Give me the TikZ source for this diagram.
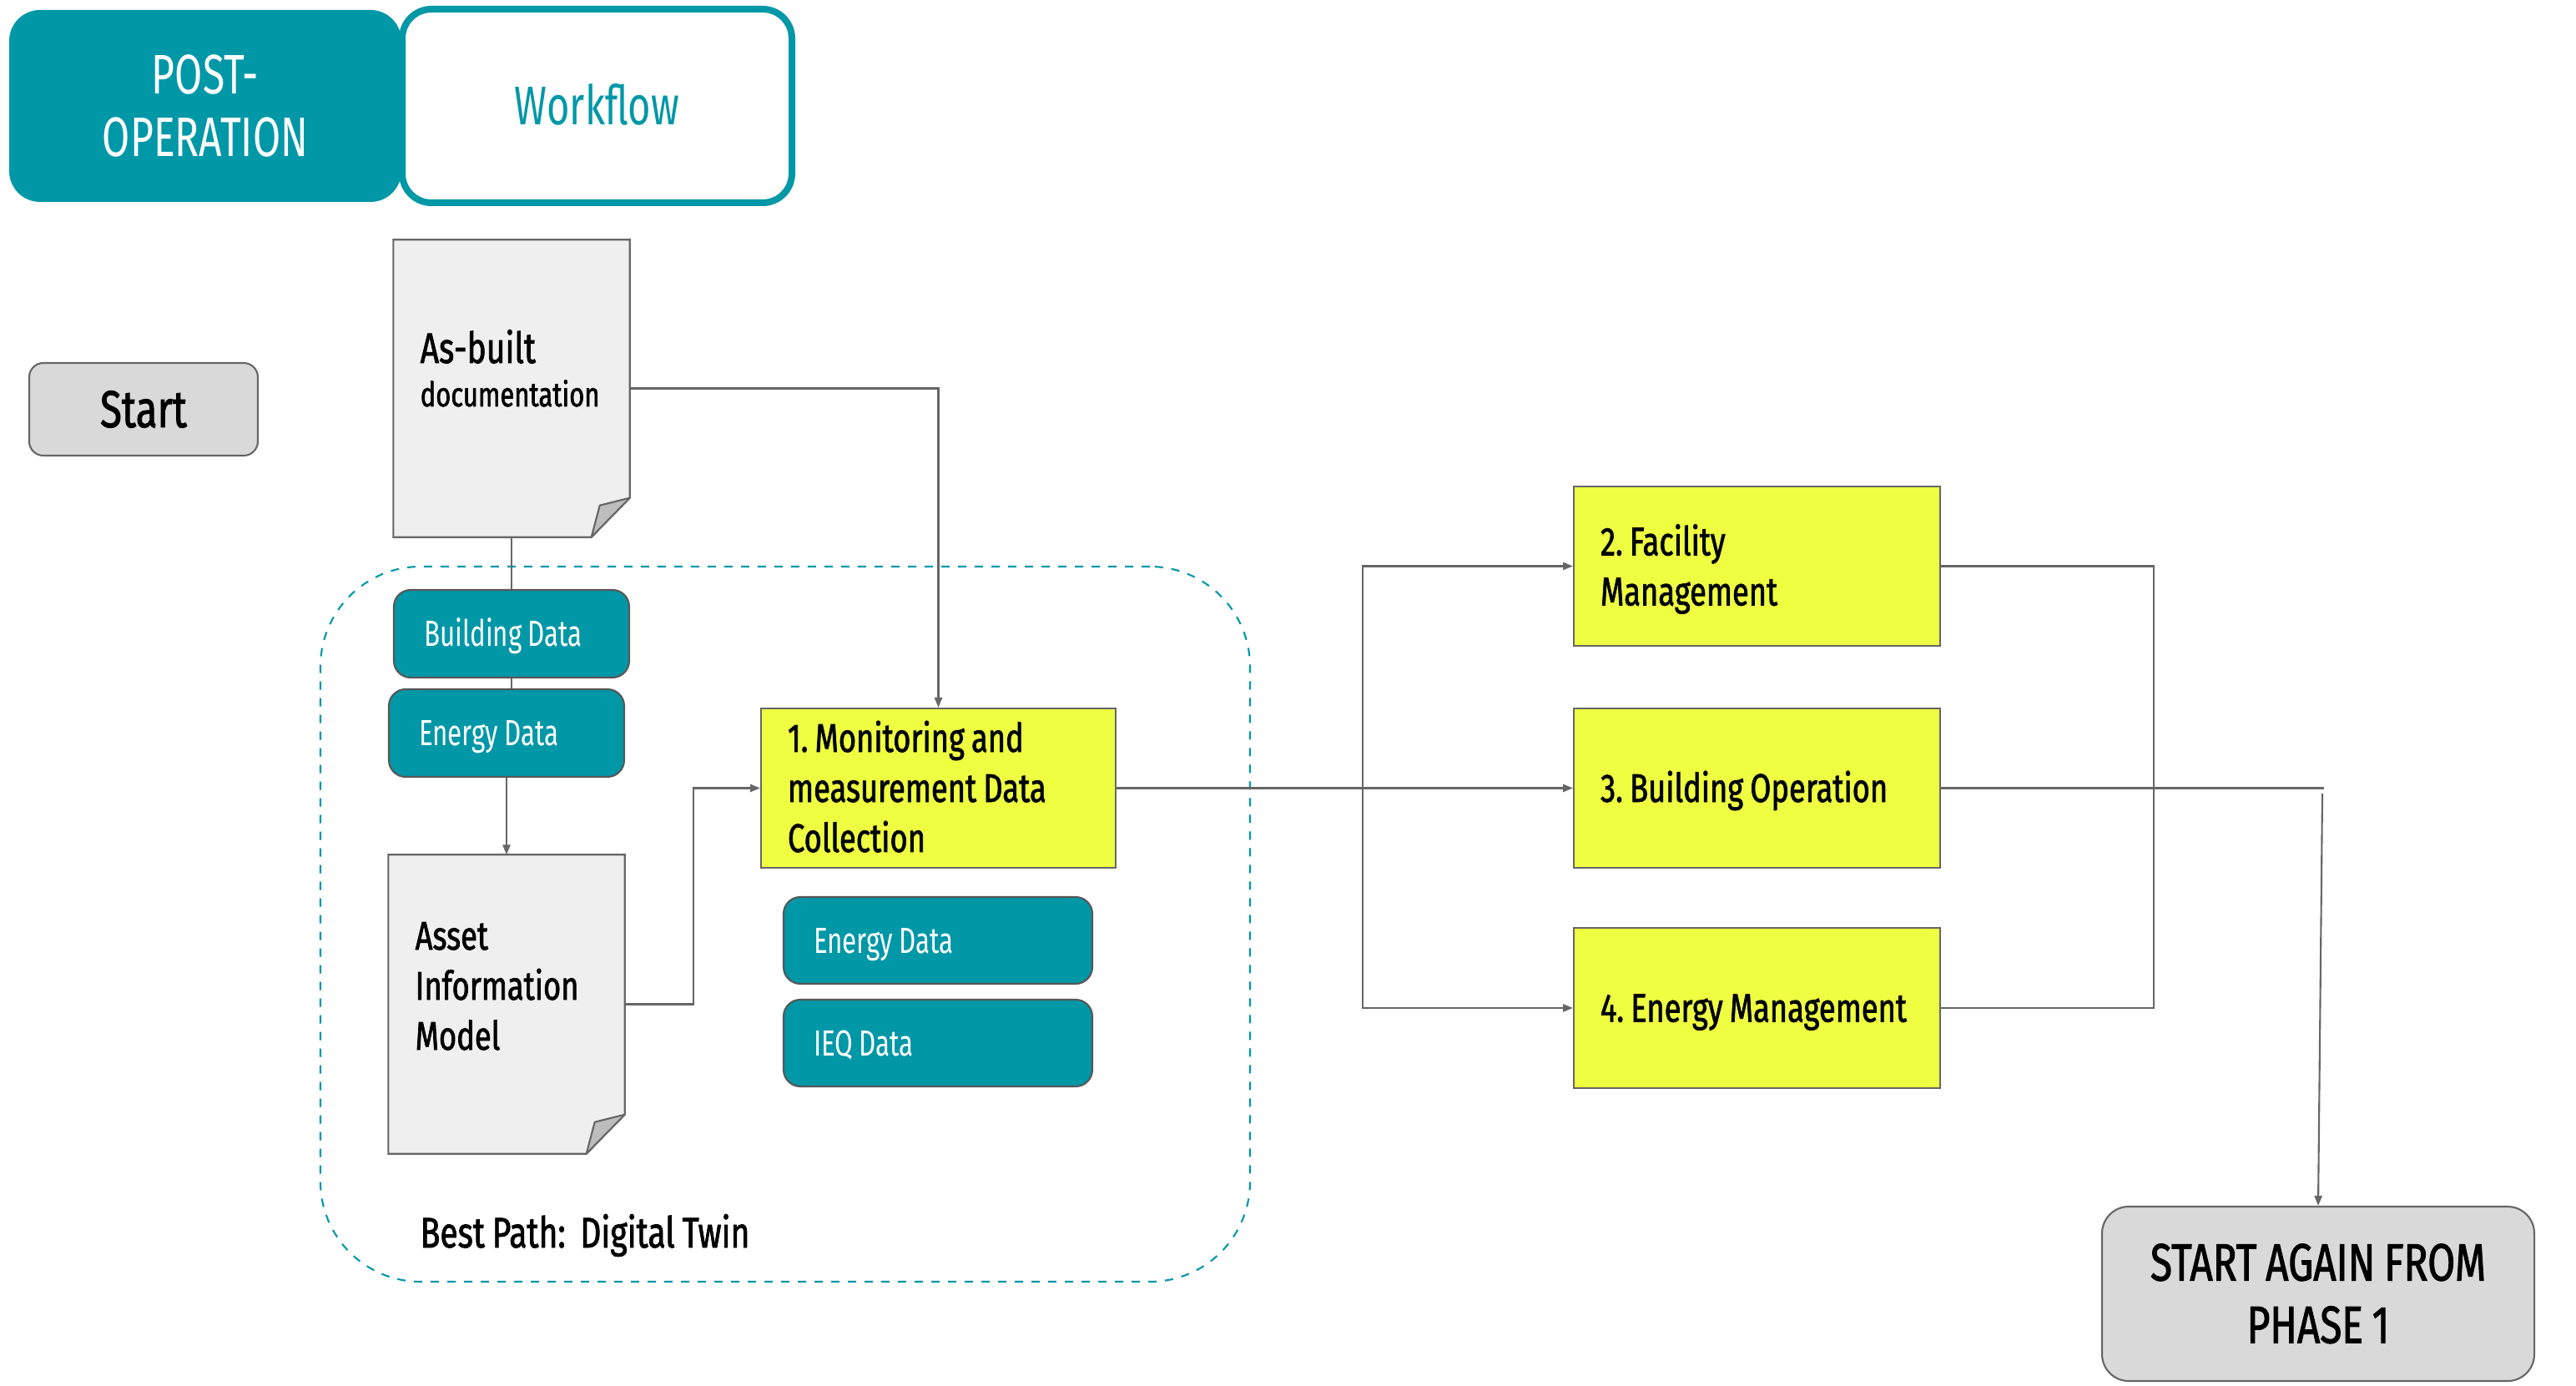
\documentclass[tikz,border=0pt]{standalone}
\usepackage{fontspec}
\setmainfont{Fira Sans}[FakeStretch=0.72, WordSpace=0.85]
\newfontfamily\darkfont{Fira Sans}[FakeStretch=0.76, WordSpace=0.85, FakeBold=1.5]
\usetikzlibrary{arrows.meta,calc}
\definecolor{teal1}{HTML}{0097A7}
\definecolor{lime1}{HTML}{EEFF41}
\definecolor{gbox}{HTML}{D9D9D9}
\definecolor{gline}{HTML}{666666}
\definecolor{docfill}{HTML}{EFEFEF}
\definecolor{foldfill}{HTML}{BDBDBD}
\newcommand\fsz[2]{\fontsize{#1}{#2}\selectfont}
\frenchspacing
\begin{document}
\begin{tikzpicture}[x=1cm,y=-1cm,
  conn/.style={draw=gline, line width=0.6pt},
  arr/.style={conn, -{Triangle[length=3.4pt,width=2.6pt]}},
  yelbox/.style={draw=gline, line width=0.6pt, fill=lime1, inner xsep=0.32cm, inner ysep=0pt, align=flush left, font=\darkfont\fsz{13.6}{17.07}, text=black},
  databox/.style={draw=gline!85!black, line width=0.6pt, fill=teal1, rounded corners=0.2cm, text=white, font=\fsz{12.4}{15}, inner xsep=0.36cm, inner ysep=0pt, align=flush left, text height=8.54pt, text depth=0pt},
  graybox/.style={draw=gline, fill=gbox, line width=0.6pt, align=center, inner sep=0pt},
  docbox/.style={draw=none, inner sep=0pt},
  docshape/.style={draw=gline, fill=docfill, line width=0.6pt},
  foldshape/.style={draw=gline, fill=foldfill, line width=0.6pt, line join=round},
  doctext/.style={anchor=base west, inner sep=0pt, align=left}
]
\useasboundingbox (0,0) rectangle (30.87,16.61);

% dashed Digital Twin region
\node[draw=teal1, dash pattern=on 0.1cm off 0.1cm, line width=0.6pt, rounded corners=1.2cm, minimum width=11.14cm, minimum height=8.57cm] (dt) at (9.41,11.075) {};
\node[anchor=base west, inner sep=0pt, font=\darkfont\fsz{14.6}{17}] (bp) at (5.03,14.95) {Best Path:\ \ Digital Twin};

% header
\node[fill=teal1, rounded corners=0.37cm, minimum width=4.70cm, minimum height=2.30cm, inner sep=0pt, text=white, align=center, font=\fsz{19}{21.6}, text height=34.69pt, text depth=0pt] (post) at (2.46,1.27) {POST-\\OPERATION};
\node[draw=teal1, line width=0.08cm, fill=white, rounded corners=0.35cm, minimum width=4.67cm, minimum height=2.32cm, inner sep=0pt, text=teal1, font=\fsz{18.6}{22}, text height=12.8pt, text depth=0pt] (wf) at (7.155,1.27) {Workflow};

% start
\node[graybox, rounded corners=0.17cm, minimum width=2.74cm, minimum height=1.11cm, font=\darkfont\fsz{17.75}{20}, text height=12.23pt, text depth=0pt] (start) at (1.72,4.905) {Start};

% As-built documentation
\node[docbox, minimum width=2.82cm, minimum height=3.55cm] (asb) at (6.13,4.655) {};
\draw[docshape] (asb.north west) -- (asb.north east) -- ($(asb.south east)+(0,-0.47)$) -- ($(asb.south east)+(-0.46,0)$) -- (asb.south west) -- cycle;
\draw[foldshape] ($(asb.south east)+(0,-0.47)$) -- ($(asb.south east)+(-0.36,-0.38)$) -- ($(asb.south east)+(-0.46,0)$) -- cycle;
\node[doctext, font=\darkfont\fsz{14.6}{17}] (asbt1) at (5.03,4.35) {As-built};
\node[doctext, font=\darkfont\fsz{11.6}{13}] (asbt2) at (5.03,4.87) {documentation};

% data boxes left
\node[databox, minimum width=2.82cm, minimum height=1.05cm, text width=2.10cm] (bd) at (6.13,7.595) {Building Data};
\node[databox, minimum width=2.82cm, minimum height=1.05cm, text width=2.10cm] (ed) at (6.07,8.785) {Energy Data};

% Asset Information Model
\node[docbox, minimum width=2.82cm, minimum height=3.57cm] (aim) at (6.07,12.035) {};
\draw[docshape] (aim.north west) -- (aim.north east) -- ($(aim.south east)+(0,-0.47)$) -- ($(aim.south east)+(-0.46,0)$) -- (aim.south west) -- cycle;
\draw[foldshape] ($(aim.south east)+(0,-0.47)$) -- ($(aim.south east)+(-0.36,-0.38)$) -- ($(aim.south east)+(-0.46,0)$) -- cycle;
\node[doctext, font=\darkfont\fsz{13.6}{17.07}] (aimt) at (4.97,12.58) {Asset\\Information\\Model};

% monitoring
\node[yelbox, minimum width=4.25cm, minimum height=1.91cm, text width=3.61cm, text height=9.39pt, text depth=34.14pt] (mon) at (11.245,9.445) {1. Monitoring and\\measurement Data\\Collection};
\node[databox, minimum width=3.70cm, minimum height=1.04cm, text width=2.98cm] (ed2) at (11.24,11.27) {Energy Data};
\node[databox, minimum width=3.70cm, minimum height=1.04cm, text width=2.98cm] (ieq) at (11.24,12.50) {IEQ Data};

% management boxes
\node[yelbox, minimum width=4.39cm, minimum height=1.91cm, text width=3.75cm, text height=9.39pt, text depth=16.8pt] (fac) at (21.055,6.785) {2. Facility\\Management};
\node[yelbox, minimum width=4.39cm, minimum height=1.91cm, text width=3.75cm, text height=9.39pt, text depth=0pt] (bo) at (21.055,9.445) {3. Building Operation};
\node[yelbox, minimum width=4.39cm, minimum height=1.92cm, text width=3.75cm, text height=9.39pt, text depth=0pt] (em) at (21.055,12.08) {4. Energy Management};

% start again
\node[graybox, rounded corners=0.32cm, minimum width=5.18cm, minimum height=2.09cm, font=\darkfont\fsz{17.9}{21.3}, text height=33.53pt, text depth=0pt] (sa) at (27.78,15.505) {START AGAIN FROM\\PHASE 1};

% connectors
\draw[arr] (asb.east) -| (mon.north);
\draw[conn] (asb.south) -- (bd.north);
\draw[conn] (bd.south) -- (bd.south |- ed.north);
\draw[arr] (ed.south) -- (aim.north);
\draw[arr] (aim.east) -- ++(0.82,0) |- (mon.west);
\draw[arr] (mon.east) -- (bo.west);
\coordinate (br) at (16.33,9.445);
\draw[arr] (br) |- (fac.west);
\draw[arr] (br) |- (em.west);
\draw[conn] (fac.east) -- ++(2.55,0) |- (em.east);
\coordinate (ret) at (27.85,9.445);
\draw[conn] (bo.east) -- (ret);
\coordinate (ret2) at (27.83,9.51);
\draw[arr] (ret2) -- (sa.north);
\end{tikzpicture}
\end{document}
